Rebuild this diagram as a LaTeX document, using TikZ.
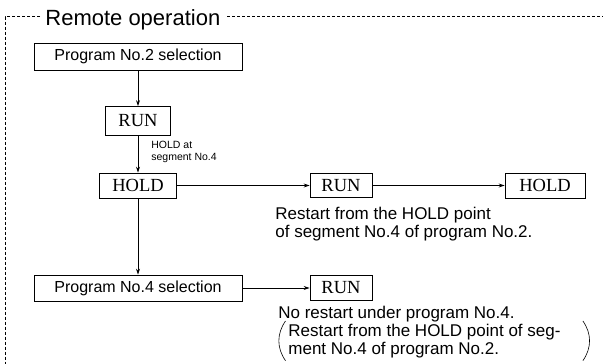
\documentclass[tikz,border=0pt]{standalone}
\usepackage{fontspec}
\setmainfont{Liberation Serif}
\newfontfamily\helv{Liberation Sans}
\usetikzlibrary{arrows.meta}

\begin{document}
\begin{tikzpicture}[x=1pt, y=-1pt, line width=0.8pt,
  >={Stealth[length=6pt,width=4pt]},
  box/.style={draw, inner sep=0pt, font=\helv\fontsize{16}{18}\selectfont},
  runbox/.style={draw, inner sep=0pt, font=\fontsize{18.5}{20}\selectfont},
  note/.style={align=left, inner sep=0pt, font=\helv\fontsize{17}{18}\selectfont}]
  \useasboundingbox (0,0) rectangle (603,364);
  % dashed frame with its title
  \node[font=\helv\fontsize{22}{24}\selectfont, anchor=base west, inner sep=0pt] (title) at (45,25) {Remote operation};
  \draw[dash pattern=on 3pt off 2pt, line width=0.7pt] (40,16.5) -- (5,16.5) -- (5,364);
  \draw[dash pattern=on 3pt off 2pt, line width=0.7pt] (227,16.5) -- (603,16.5);
  % boxes
  \node[box, minimum width=208pt, minimum height=27pt] (sel2) at (138,56.5) {Program No.2 selection};
  \node[runbox, minimum width=65pt, minimum height=29pt] (run1) at (138,121) {RUN};
  \node[runbox, minimum width=77pt, minimum height=25pt] (hold1) at (138,185.5) {HOLD};
  \node[runbox, minimum width=62pt, minimum height=24pt] (run2) at (341,185.5) {RUN};
  \node[runbox, minimum width=80pt, minimum height=25pt] (hold2) at (545,185.5) {HOLD};
  \node[box, minimum width=208pt, minimum height=26pt] (sel4) at (138,288) {Program No.4 selection};
  \node[runbox, minimum width=62pt, minimum height=25pt] (run3) at (341,288) {RUN};
  % arrows
  \draw[->] (sel2) -- (run1);
  \draw[->] (run1) -- (hold1);
  \draw[->] (hold1) -- (run2);
  \draw[->] (run2) -- (hold2);
  \draw[->] (hold1) -- (sel4);
  \draw[->] (sel4) -- (run3);
  % texts
  \node[font=\helv\fontsize{10.5}{12}\selectfont, align=left, anchor=north west, inner sep=0pt] (holdat) at (151,141) {HOLD at\\segment No.4};
  \node[note, anchor=north west] (restart) at (275,207) {Restart from the HOLD point\\of segment No.4 of program No.2.};
  \node[note, anchor=north west] (norestart) at (278,306) {No restart under program No.4.};
  \node[note, anchor=north west] (paren) at (288,324) {Restart from the HOLD point of seg-\\ment No.4 of program No.2.};
  % round brackets
  \draw[line width=0.6pt] ([xshift=-2.5pt,yshift=3pt]paren.north west) to[bend right=35] ([xshift=-2.5pt,yshift=-2pt]paren.south west);
  \draw[line width=0.6pt] ([xshift=22pt,yshift=3pt]paren.north east) to[bend left=35] ([xshift=22pt,yshift=-2pt]paren.south east);
\end{tikzpicture}
\end{document}
